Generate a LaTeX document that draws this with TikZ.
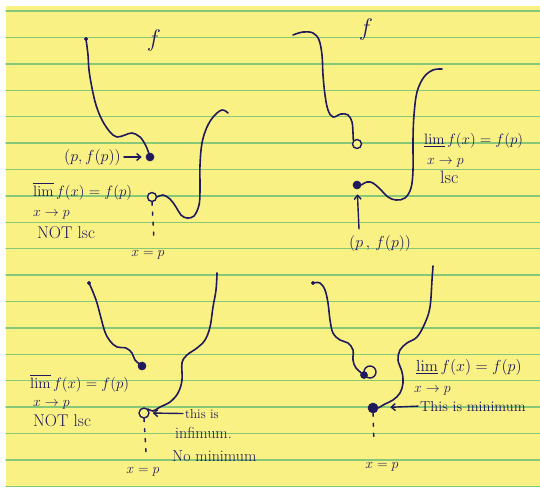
\RequirePackage{fix-cm}
\documentclass[tikz,border=0pt]{standalone}
\usepackage{amsmath}
\usetikzlibrary{arrows.meta}
\definecolor{paper}{RGB}{249,241,132}
\definecolor{ruleline}{RGB}{135,200,120}
\definecolor{ink}{RGB}{32,26,92}
\begin{document}
\begin{tikzpicture}[x=1pt,y=-1pt,line cap=round,line join=round,
  pen/.style={draw=ink,line width=1.6pt},
  inkdot/.style={circle,fill=ink,draw=ink,line width=0.6pt,inner sep=0pt,minimum size=#1},
  hole/.style={circle,draw=ink,line width=1.4pt,fill=paper,inner sep=0pt,minimum size=9pt},
  lbl/.style={text=ink,inner sep=0pt,anchor=base west},
  ptr/.style={draw=ink,line width=1.4pt,-{Straight Barb[length=4pt,width=7pt]}},
  dotline/.style={draw=ink,line width=1.5pt,dash pattern=on 3pt off 7pt},
  big/.style={font=\fontsize{15}{18}\selectfont},
  mid/.style={font=\fontsize{16}{18}\selectfont},
  small/.style={font=\fontsize{14}{16}\selectfont}]
\useasboundingbox (0,0) rectangle (540,487);
\fill[white] (0,0) rectangle (540,487);
\fill[paper] (6,6) rectangle (540,487);
\foreach \k in {0,...,18} {
  \draw[ruleline,line width=1.4pt] (6,{11+26.4*\k}) -- (540,{11+26.4*\k});
}

% ---------- panel 1 ----------
\node[text=ink,font=\fontsize{24}{26}\selectfont] (f1) at (154,40) {$f$};
\node[inkdot=3.5pt] (s1) at (86,39) {};
\node[inkdot=8pt] (d1) at (150,157) {};
\node[hole] (c1) at (152,197) {};
\coordinate (e1) at (228,113);
\coordinate (b1) at (154,240);
\draw[pen] plot[smooth,tension=0.6] coordinates {(s1) (88,55) (89,70) (92,88) (96,105) (102,120) (110,132) (117,137) (125,135) (132,133) (140,137) (146,146) (d1)};
\draw[pen] plot[smooth,tension=0.6] coordinates {(c1.east) (163,195) (170,199) (176,207) (181,215) (187,218) (194,216) (199,205) (200,190) (200,165) (202,143) (207,127) (214,116) (222,110) (e1)};
\draw[dotline] (c1.south) -- (b1);
\node[lbl,small,anchor=base] (x1) at (148,256) {$x=p$};
\node[lbl,font=\fontsize{16}{18}\selectfont] (pf1) at (64,161) {$(p,f(p))$};
\draw[ptr,shorten <=3pt,shorten >=4pt] (pf1.east) -- (d1);
\node[lbl,big] (lim1) at (33,196) {$\varlimsup f(x)=f(p)$};
\node[lbl,small] (xp1) at (33,216) {$x\to p$};
\node[lbl,font=\fontsize{17}{19}\selectfont] (n1) at (37,238) {NOT lsc};

% ---------- panel 2 ----------
\node[text=ink,font=\fontsize{24}{26}\selectfont] (f2) at (366,30) {$f$};
\coordinate (s2) at (293,35);
\node[hole] (c2) at (357,144) {};
\node[inkdot=8pt] (d2) at (357,185) {};
\coordinate (e2) at (442,69);
\draw[pen] plot[smooth,tension=0.6] coordinates {(s2) (303,32) (313,33) (319,40) (322,55) (323,75) (325,95) (328,110) (333,117) (341,114) (348,115) (352,122) (353,133) (c2.north west)};
\draw[pen] plot[smooth,tension=0.6] coordinates {(d2.east) (367,182) (373,183) (380,189) (388,197) (396,200) (405,198) (411,188) (413,170) (413,140) (414,115) (417,92) (424,77) (433,70) (e2)};
\coordinate (a2) at (359,229);
\draw[ptr,shorten >=5pt] (a2) -- (d2);
\node[lbl,font=\fontsize{16}{18}\selectfont] (pf2) at (349,247) {$(p\,,\,f(p))$};
\node[lbl,big] (lim2) at (424,144) {$\varliminf f(x)=f(p)$};
\node[lbl,small] (xp2) at (427,164) {$x\to p$};
\node[lbl,font=\fontsize{18}{20}\selectfont] (n2) at (440,183) {lsc};

% ---------- panel 3 ----------
\node[inkdot=3.5pt] (s3) at (89,283) {};
\node[inkdot=8pt] (d3) at (142,366) {};
\node[hole,minimum size=10pt] (c3) at (144,413) {};
\coordinate (e3) at (217,273);
\draw[pen] plot[smooth,tension=0.6] coordinates {(s3) (93,292) (97,303) (101,318) (105,332) (110,341) (117,347) (126,348) (132,353) (135,360) (d3)};
\draw[pen] plot[smooth,tension=0.6] coordinates {(c3.north east) (153,411) (160,407) (170,402) (178,393) (182,380) (182,363) (187,355) (197,348) (205,340) (210,327) (213,307) (216,290) (e3)};
\node[lbl,font=\fontsize{13}{15}\selectfont] (t3) at (185,418) {this is};
\draw[ptr,shorten <=2pt,shorten >=3pt] (t3.west) -- (c3.east);
\node[lbl,mid] (t3b) at (175,438) {infimum.};
\node[lbl,mid] (t3c) at (172,461) {No minimum};
\coordinate (b3) at (146,452);
\draw[dotline] (c3.south) -- (b3);
\node[lbl,small,anchor=base] (x3) at (143,473) {$x=p$};
\node[lbl,big] (lim3) at (30,388) {$\varlimsup f(x)=f(p)$};
\node[lbl,small] (xp3) at (33,406) {$x\to p$};
\node[lbl,font=\fontsize{17}{19}\selectfont] (n3) at (33,426) {NOT lsc};

% ---------- panel 4 ----------
\node[inkdot=3.5pt] (s4) at (313,283) {};
\node[hole,minimum size=12pt] (c4) at (370,372) {};
\node[inkdot=7pt] (d4) at (364,375) {};
\node[inkdot=10pt] (m4) at (373,408) {};
\coordinate (e4) at (433,266);
\draw[pen] plot[smooth,tension=0.6] coordinates {(s4) (320,283) (325,290) (328,303) (330,320) (333,333) (340,340) (348,343) (353,350) (353,360) (356,368) (d4)};
\draw[pen] plot[smooth,tension=0.6] coordinates {(m4.east) (385,404) (393,400) (400,393) (403,383) (402,372) (398,360) (400,350) (407,343) (417,337) (425,323) (430,307) (432,280) (e4)};
\node[lbl,font=\fontsize{14.5}{16}\selectfont] (t4) at (420,411) {This is minimum};
\draw[ptr,shorten <=2pt,shorten >=12pt] (t4.west) -- (m4);
\coordinate (b4) at (374,443);
\draw[dotline] (m4.south) -- (b4);
\node[lbl,small,anchor=base] (x4) at (382,468) {$x=p$};
\node[lbl,font=\fontsize{16}{18}\selectfont] (lim4) at (416,371) {$\varliminf f(x)=f(p)$};
\node[lbl,small] (xp4) at (414,392) {$x\to p$};
\end{tikzpicture}
\end{document}
